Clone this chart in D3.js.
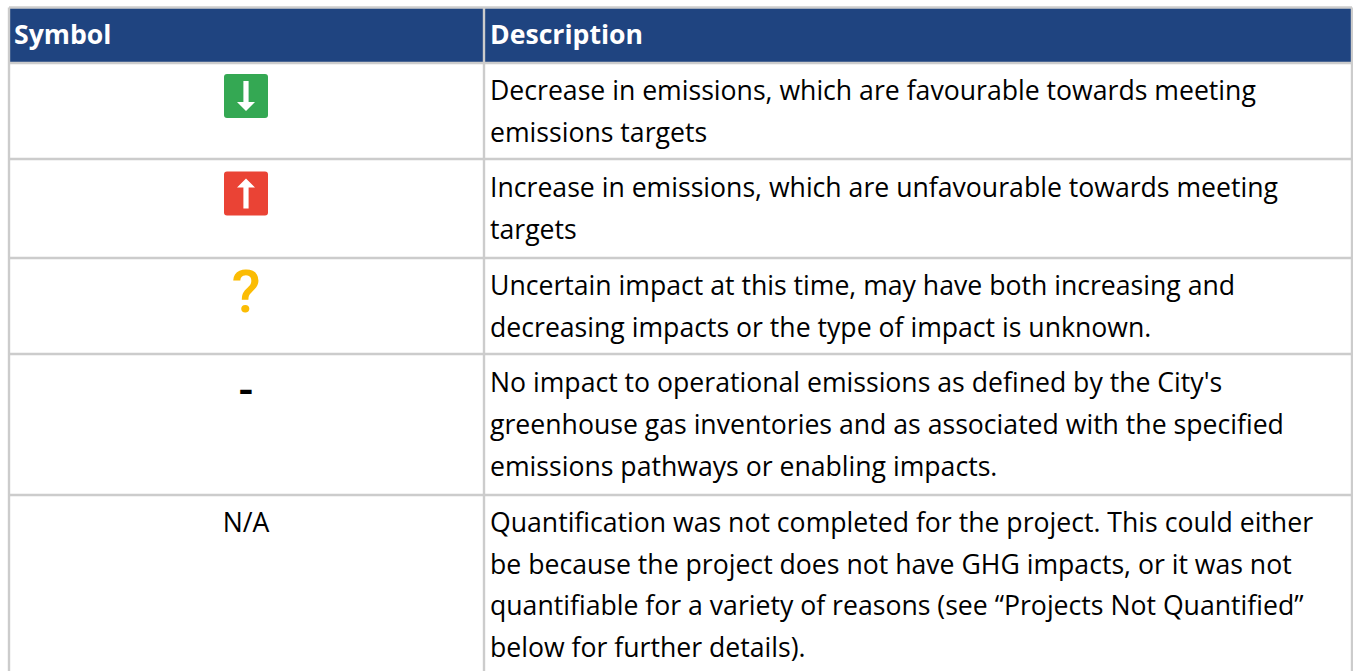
<!DOCTYPE html>
<html>
<head>
<meta charset="utf-8">
<script src="https://cdn.jsdelivr.net/npm/d3@7"></script>
<style>
    html, body { margin: 0; padding: 0; background: #fff; overflow: hidden; }
    text { font-family: "Open Sans", sans-serif; }
</style>
</head>
<body>
<div id="chart"></div>
<script>
const headers = ["Symbol", "Description"];
const symbols = ["down", "up", "question", "dash", "N/A"];
const descriptions = [
    ["Decrease in emissions, which are favourable towards meeting", "emissions targets"],
    ["Increase in emissions, which are unfavourable towards meeting", "targets"],
    ["Uncertain impact at this time, may have both increasing and", "decreasing impacts or the type of impact is unknown."],
    ["No impact to operational emissions as defined by the City's", "greenhouse gas inventories and as associated with the specified", "emissions pathways or enabling impacts."],
    ["Quantification was not completed for the project. This could either", "be because the project does not have GHG impacts, or it was not", "quantifiable for a variety of reasons (see “Projects Not Quantified”", "below for further details)."]
];

const width = 1353, height = 671;
const left = 9, right = 1352, colX = 484;
const borderColor = "#cccccc", headerColor = "#1f4480";
const fontSize = 26.63, lineHeight = 41.9;
// top of each row line, last one runs off the picture
const rowLines = [7.5, 63, 159, 258, 354, 495, 700];
// rows in the source are not evenly padded
const rowPad = [37, 38, 36.7, 38, 36.7];
const symbolX = (left + colX) / 2 - 0.5;

const svg = d3.select("#chart").append("svg")
    .attr("width", width)
    .attr("height", height)
    .style("display", "block");

// Header band
svg.append("rect")
    .attr("x", left).attr("y", rowLines[0])
    .attr("width", right - left).attr("height", rowLines[1] - rowLines[0])
    .attr("fill", headerColor);

// Grid lines
svg.selectAll("line.row")
    .data(rowLines.slice(0, -1))
    .enter().append("line")
    .attr("class", "row")
    .attr("x1", left).attr("x2", right)
    .attr("y1", d => d).attr("y2", d => d)
    .attr("stroke", borderColor).attr("stroke-width", 2.4);

svg.selectAll("line.col")
    .data([left, colX, right])
    .enter().append("line")
    .attr("class", "col")
    .attr("x1", d => d).attr("x2", d => d)
    .attr("y1", rowLines[0]).attr("y2", height)
    .attr("stroke", borderColor).attr("stroke-width", 2.4);

// Header labels
svg.selectAll("text.head")
    .data(headers)
    .enter().append("text")
    .attr("class", "head")
    .attr("x", (d, i) => i === 0 ? 14 : 490)
    .attr("y", 44)
    .attr("fill", "#fff")
    .attr("font-size", fontSize)
    .attr("font-weight", 700)
    .text(d => d);

// Description cells
const rows = svg.selectAll("g.desc")
    .data(descriptions)
    .enter().append("g")
    .attr("class", "desc")
    .attr("transform", (d, i) => `translate(490, ${rowLines[i + 1] + rowPad[i]})`);

rows.selectAll("text")
    .data(d => d)
    .enter().append("text")
    .attr("y", (d, i) => i * lineHeight)
    .attr("font-size", fontSize)
    .attr("fill", "#000")
    .text(d => d);

// Symbol cells
function drawArrowBox(g, color, dir, top) {
    g.append("rect")
        .attr("x", -22).attr("y", top)
        .attr("width", 44).attr("height", 44)
        .attr("rx", 3)
        .attr("fill", color);
    // arrow drawn pointing down, flipped for the up one
    g.append("path")
        .attr("d", "M-2.6,-15H2.6V6H9L0,15L-9,6H-2.6Z")
        .attr("fill", "#fff")
        .attr("transform", `translate(0, ${top + 22}) scale(1, ${dir})`);
}

svg.selectAll("g.sym")
    .data(symbols)
    .enter().append("g")
    .attr("class", "sym")
    .attr("transform", (d, i) => `translate(${symbolX}, ${rowLines[i + 1]})`)
    .each(function(d) {
        const g = d3.select(this);
        if (d === "down") {
            drawArrowBox(g, "#34a853", 1, 11);
        } else if (d === "up") {
            drawArrowBox(g, "#ea4335", -1, 12.5);
        } else if (d === "question") {
            g.append("text")
                .attr("text-anchor", "middle").attr("y", 54)
                .attr("font-size", 60).attr("font-weight", 500)
                .style("font-family", "Roboto, sans-serif")
                .attr("fill", "#fbbc04")
                .text("?");
        } else if (d === "dash") {
            g.append("text")
                .attr("text-anchor", "middle").attr("y", 51)
                .attr("font-size", 44).attr("font-weight", 500)
                .style("font-family", "Roboto, sans-serif")
                .attr("fill", "#000")
                .text("-");
        } else {
            g.append("text")
                .attr("text-anchor", "middle").attr("y", 36.5)
                .attr("font-size", fontSize)
                .attr("fill", "#000")
                .text(d);
        }
    });
</script>
</body>
</html>
